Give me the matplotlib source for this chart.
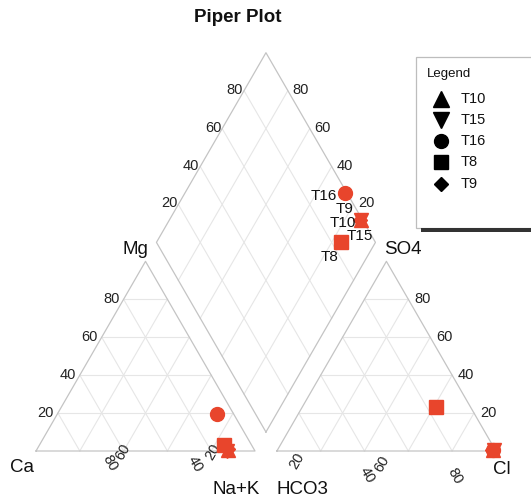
import numpy as np
import matplotlib.pyplot as plt
from matplotlib.patches import Rectangle

plt.rcParams['font.family'] = ['Liberation Sans', 'DejaVu Sans']

# samples (legend order) and their markers
samples = ['T10', 'T15', 'T16', 'T8', 'T9']
markers = ['^', 'v', 'o', 's', 'D']

# cations, % meq/l
ca = np.array([12.2, 12.6, 7.6, 12.6, 12.0])
mg = np.array([0.4, 0.0, 19.5, 3.2, 1.0])
nak = 100 - ca - mg

# anions, % meq/l
hco3 = np.array([1.0, 0.6, 1.1, 15.8, 1.4])
so4 = np.array([0.4, 0.6, 0.5, 23.2, 0.6])
cl = 100 - hco3 - so4

ticks = [20, 40, 60, 80]

red = '#e8452c'
edge_col = '#c4c4c4'
grid_col = '#e6e6e6'

H = np.sqrt(3) / 2
GAP = 0.1
SIDE = 219.0          # pixels per unit
X0P, Y0P = 36.0, 451.0  # pixel position of the Ca corner


def px(xp, yp):
    """pixel position -> data coordinates (for layout of text only)"""
    return (xp - X0P) / SIDE, (Y0P - yp) / SIDE


def tri(right, top, x0=0.0):
    return x0 + right + top / 2.0, top * H


def diamond(cx, cy, ax_, ay):
    t = ax_ - cx - (cy - ay) / (2 * H)
    return cx + t / 2, cy + t * H


fig = plt.figure(figsize=(5.31, 5.0), dpi=100)
ax = fig.add_axes([0, 0, 1, 1])
ax.set_xlim(px(0, 0)[0], px(531, 0)[0])
ax.set_ylim(px(0, 500)[1], px(0, 0)[1])
ax.axis('off')

# ---- triangles ----
for x0 in [0.0, 1 + GAP]:
    for f in np.array(ticks) / 100:
        segs = [
            (tri(0, f, x0), tri(1 - f, f, x0)),
            (tri(1 - f, 0, x0), tri(0, 1 - f, x0)),
            (tri(f, 0, x0), tri(f, 1 - f, x0)),
        ]
        for (xa, ya), (xb, yb) in segs:
            ax.plot([xa, xb], [ya, yb], color=grid_col, lw=0.8, zorder=1)
    cx_ = [tri(0, 0, x0), tri(1, 0, x0), tri(0, 1, x0), tri(0, 0, x0)]
    ax.plot([p[0] for p in cx_], [p[1] for p in cx_], color=edge_col, lw=0.9, zorder=2)

# ---- diamond ----
B = np.array([1 + GAP / 2, GAP * H])
L = B + np.array([-0.5, H])
R = B + np.array([0.5, H])
T = B + np.array([0.0, 2 * H])
for f in np.array(ticks) / 100:
    p1 = B + f * (R - B)
    p2 = p1 + (L - B)
    ax.plot([p1[0], p2[0]], [p1[1], p2[1]], color=grid_col, lw=0.8, zorder=1)
    p1 = B + f * (L - B)
    p2 = p1 + (R - B)
    ax.plot([p1[0], p2[0]], [p1[1], p2[1]], color=grid_col, lw=0.8, zorder=1)
poly = np.array([B, L, T, R, B])
ax.plot(poly[:, 0], poly[:, 1], color=edge_col, lw=0.9, zorder=2)

# ---- tick labels ----
tk = dict(fontsize=10.5, color='#222222')
off = 1 / SIDE
for v in ticks:
    f = v / 100
    # left triangle, Mg side
    x, y = tri(0, f)
    ax.text(x - 4 * off, y, str(v), ha='right', va='center', **tk)
    # right triangle, SO4 side
    x, y = tri(1 - f, f, 1 + GAP)
    ax.text(x + 6 * off, y, str(v), ha='left', va='center', **tk)
    # diamond upper edges
    p = L + f * (T - L)
    ax.text(p[0] - 1 * off, p[1] + 1 * off, str(v), ha='right', va='center', **tk)
    p = R + f * (T - R)
    ax.text(p[0] + 5 * off, p[1] + 1 * off, str(v), ha='left', va='center', **tk)

# bottom labels (placed as in the original)
bottom_left = {80: (110, 463, -60), 60: (123, 452, 60), 40: (195, 464, -60), 20: (213, 452, 60)}
bottom_right = {20: (297, 461, 60), 40: (367, 475, -60), 60: (382, 464, 60), 80: (455, 476, -60)}
for d in (bottom_left, bottom_right):
    for v, (xp, yp, rot) in d.items():
        x, y = px(xp, yp)
        ax.text(x, y, str(v), ha='center', va='center', rotation=rot, **tk)

# ---- corner labels ----
lab = dict(fontsize=13.5, color='#111111', ha='center', va='center')
for s, (xp, yp) in {'Mg': (135, 250), 'SO4': (403, 250), 'Ca': (22, 467),
                    'Na+K': (236, 489), 'HCO3': (302, 489), 'Cl': (502, 469)}.items():
    ax.text(*px(xp, yp), s, **lab)

# ---- data ----
cat_x, cat_y = tri(nak / 100, mg / 100)
an_x, an_y = tri(cl / 100, so4 / 100, 1 + GAP)
dx, dy = diamond(cat_x, cat_y, an_x, an_y)
sizes = {'^': 10, 'v': 10, 'o': 10, 's': 9.5, 'D': 7.5}
for i, s in enumerate(samples):
    m = markers[i]
    for xx, yy in [(cat_x[i], cat_y[i]), (an_x[i], an_y[i]), (dx[i], dy[i])]:
        ax.plot(xx, yy, marker=m, ms=sizes[m], color=red, mec=red, ls='none', zorder=5)

# sample labels in the diamond (pixel offsets)
lab_off = {'T16': (-8, 3, 'right'), 'T9': (-6, -11, 'right'), 'T10': (-5, 3, 'right'),
           'T15': (-14, 16, 'left'), 'T8': (-2, 15, 'right')}
for i, s in enumerate(samples):
    ox, oy, ha = lab_off[s]
    ax.text(dx[i] + ox * off, dy[i] - oy * off, s, ha=ha, va='center',
            fontsize=11, color='#111111', zorder=6)

# ---- title ----
ax.text(*px(238, 18), 'Piper Plot', ha='center', va='center', fontsize=13.5,
        fontweight='bold', color='#111111')

# ---- legend box ----
x1, y1 = px(416, 228)
x2, y2 = px(540, 57)
ax.add_patch(Rectangle((x1, y1), x2 - x1, y2 - y1, facecolor='white',
                       edgecolor='#bdbdbd', lw=0.9, zorder=3))
sx1, sy1 = px(421, 232)
sx2, sy2 = px(540, 228)
ax.add_patch(Rectangle((sx1, sy1), sx2 - sx1, sy2 - sy1, facecolor='#333333',
                       edgecolor='none', zorder=3))
ax.text(*px(427, 74), 'Legend', ha='left', va='center', fontsize=9.5, color='#111111', zorder=4)
leg_rows = [99, 120, 141, 162, 184]
leg_sizes = {'^': 11, 'v': 11, 'o': 10, 's': 9.5, 'D': 7}
for i, s in enumerate(samples):
    mx, my = px(441, leg_rows[i])
    ax.plot(mx, my, marker=markers[i], ms=leg_sizes[markers[i]], color='black', ls='none', zorder=4)
    ax.text(*px(461, leg_rows[i]), s, ha='left', va='center', fontsize=10.5, color='#111111', zorder=4)

fig.savefig('out.png', dpi=100)
